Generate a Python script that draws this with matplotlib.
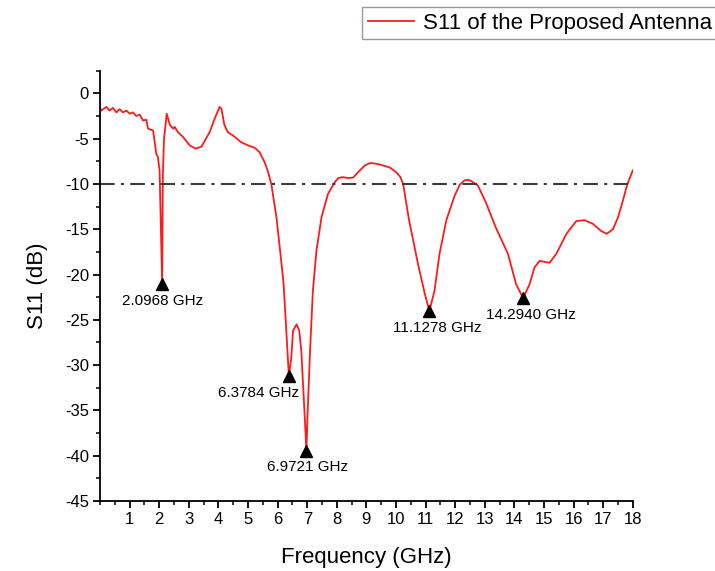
import matplotlib
matplotlib.use('Agg')
import matplotlib.pyplot as plt
from matplotlib.ticker import MultipleLocator

plt.rcParams['font.family'] = ['Liberation Sans', 'DejaVu Sans']
plt.rcParams['axes.unicode_minus'] = False

freq = [0.00, 0.04, 0.21, 0.32, 0.43, 0.55, 0.66, 0.77, 0.89, 1.00,
        1.11, 1.22, 1.34, 1.45, 1.56, 1.62, 1.79, 1.90, 1.95, 2.01,
        2.0968, 2.12, 2.16, 2.25, 2.36, 2.47, 2.52, 2.63, 2.80, 3.03,
        3.22, 3.42, 3.70, 3.87, 4.04, 4.10, 4.20, 4.32, 4.49, 4.77,
        5.00, 5.22, 5.39, 5.56, 5.68, 5.79, 5.96, 6.12, 6.20, 6.28,
        6.3784, 6.46, 6.52, 6.64, 6.73, 6.80, 6.91, 6.9721, 7.01, 7.10,
        7.19, 7.31, 7.48, 7.70, 7.93, 8.05, 8.20, 8.38, 8.55, 8.75,
        8.95, 9.12, 9.30, 9.50, 9.80, 10.00, 10.14, 10.24, 10.44, 10.74,
        10.97, 11.1278, 11.30, 11.47, 11.70, 11.98, 12.15, 12.32, 12.45, 12.55,
        12.77, 13.03, 13.37, 13.78, 14.06, 14.2940, 14.51, 14.68, 14.85, 15.19,
        15.42, 15.76, 16.09, 16.37, 16.65, 16.93, 17.12, 17.33, 17.50, 17.67,
        17.80, 18.00]
s11 = [-1.6, -1.9, -1.5, -1.9, -1.6, -2.1, -1.75, -2.1, -1.9, -2.25,
       -2.1, -2.5, -2.35, -3.0, -2.9, -3.9, -4.1, -6.7, -7.0, -8.5,
       -21.0, -9.0, -5.0, -2.25, -3.5, -3.9, -3.7, -4.3, -4.8, -5.75,
       -6.1, -5.9, -4.3, -2.8, -1.5, -1.7, -3.5, -4.3, -4.65, -5.4,
       -5.75, -6.0, -6.5, -7.6, -8.7, -10.1, -13.7, -18.5, -21.0, -25.5,
       -31.2, -29.2, -26.2, -25.5, -26.2, -28.5, -35.4, -39.5, -35.4, -28.0,
       -21.8, -17.4, -13.7, -11.1, -9.8, -9.35, -9.25, -9.35, -9.3, -8.6,
       -7.95, -7.7, -7.75, -7.9, -8.2, -8.7, -9.2, -10.0, -14.0, -18.8,
       -22.1, -24.0, -21.8, -17.7, -14.0, -11.3, -10.1, -9.6, -9.55, -9.7,
       -10.2, -12.0, -14.8, -17.7, -21.1, -22.6, -21.1, -19.2, -18.5, -18.7,
       -17.7, -15.5, -14.1, -14.0, -14.4, -15.2, -15.5, -15.0, -13.7, -11.8,
       -10.2, -8.5]

# resonance markers
res_freq = [2.0968, 6.3784, 6.9721, 11.1278, 14.2940]
res_s11 = [-21.0, -31.2, -39.5, -24.0, -22.6]
# label offsets in pixels
res_offset = [(0, -17), (-30, -17), (1, -16), (8, -17), (8, -17)]

threshold = -10


def draw(ax):
    line, = ax.plot(freq, s11, color='#ff1a1a', lw=1.3,
                    label='S11 of the Proposed Antenna')
    ax.plot([0, 18], [threshold, threshold], color='#3c3c3c', lw=1.5,
            linestyle=(0, (7, 3, 1.5, 3)))

    ax.plot(res_freq, res_s11, linestyle='none', marker='^', color='black',
            markersize=9)
    for f, v, off in zip(res_freq, res_s11, res_offset):
        ax.annotate('%.4f GHz' % f, (f, v), xytext=off,
                    textcoords='offset pixels', ha='center', va='center',
                    fontsize=11)
    return line


def run():
    fig = plt.figure(figsize=(7.15, 5.71), dpi=100)
    ax = fig.add_axes([0.14, 0.1226, 0.745, 0.7536])

    line = draw(ax)

    ax.set_xlim(0, 18)
    ax.set_ylim(-45, 2.5)
    ax.set_xticks(range(1, 19))
    ax.xaxis.set_minor_locator(MultipleLocator(0.5))
    ax.set_yticks(range(-45, 1, 5))
    ax.yaxis.set_minor_locator(MultipleLocator(2.5))

    for side in ['top', 'right']:
        ax.spines[side].set_visible(False)
    for side in ['left', 'bottom']:
        ax.spines[side].set_linewidth(1.3)
    ax.tick_params(which='major', length=5, width=1.3, labelsize=12, pad=3)
    ax.tick_params(which='minor', length=3, width=1.1)

    ax.set_xlabel('Frequency (GHz)', fontsize=16, labelpad=14)
    ax.set_ylabel('S11 (dB)', fontsize=16, labelpad=12)

    leg = fig.legend(handles=[line], loc='upper left',
                     bbox_to_anchor=(362 / 715, 1 - 7 / 571),
                     fontsize=16, fancybox=False, handlelength=2.1,
                     handletextpad=0.4, borderpad=0.25, borderaxespad=0)
    leg.get_frame().set_edgecolor('#808080')
    leg.get_frame().set_linewidth(1.0)

    fig.savefig('out.png', dpi=100)


if __name__ == '__main__':
    run()
